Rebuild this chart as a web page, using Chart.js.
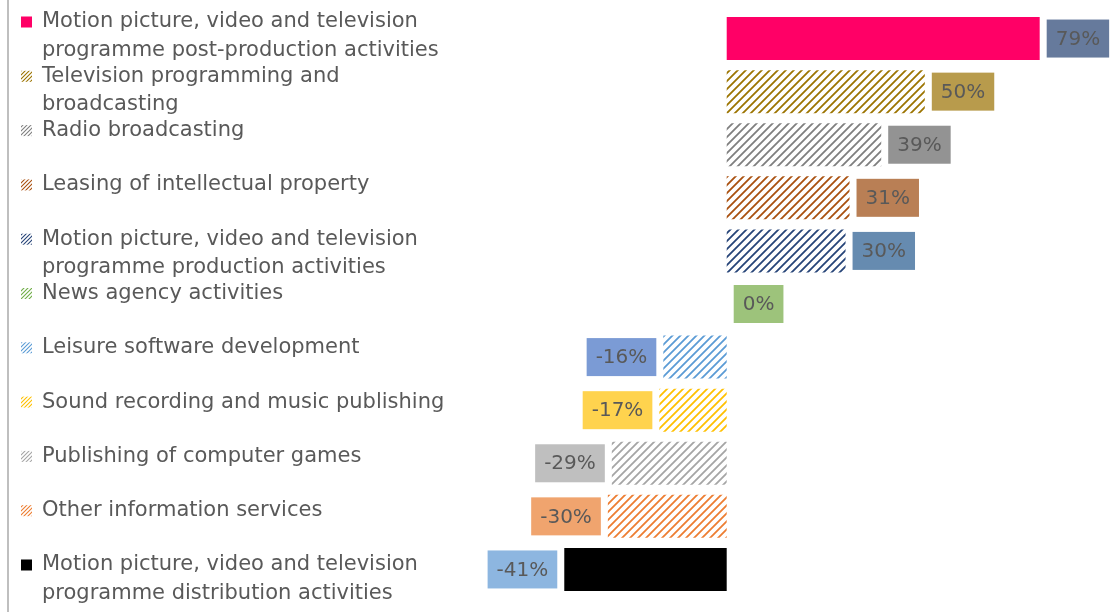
<!DOCTYPE html>
<html>
<head>
<meta charset="utf-8">
<script src="https://cdn.jsdelivr.net/npm/chart.js@4/dist/chart.umd.min.js"></script>
<style>
  html, body { margin: 0; padding: 0; background: #fff; }
  #wrap { width: 1112px; height: 612px; position: relative; }
</style>
</head>
<body>
<div id="wrap"><canvas id="sectorChart"></canvas></div>
<script>
"use strict";

// categories (legend text, already wrapped as in the original)
const categories = [
  ["Motion picture, video and television", "programme post-production activities"],
  ["Television programming and", "broadcasting"],
  ["Radio broadcasting"],
  ["Leasing of intellectual property"],
  ["Motion picture, video and television", "programme production activities"],
  ["News agency activities"],
  ["Leisure software development"],
  ["Sound recording and music publishing"],
  ["Publishing of computer games"],
  ["Other information services"],
  ["Motion picture, video and television", "programme distribution activities"],
];

// % change per category
const changePct = [79, 50, 39, 31, 30, 0, -16, -17, -29, -30, -41];

// bar colours and whether the bar is hatched
const barColors = ["#FF0066", "#9C7400", "#7F7F7F", "#A9500F", "#264478", "#70AD47",
                   "#5B9BD5", "#FFC000", "#A5A5A5", "#ED7D31", "#000000"];
const barHatched = [false, true, true, true, true, true, true, true, true, true, false];

// label box colours
const labelColors = ["#667A9C", "#B89B4C", "#939393", "#B97F55", "#668BB0", "#9DC37B",
                     "#7B9BD5", "#FFD34E", "#BFBFBF", "#F0A46E", "#8DB6E0"];

const FONT = "'DejaVu Sans', sans-serif";
const TEXT_COLOR = "#595959";

function hatch(color, size, width) {
  const c = document.createElement("canvas");
  c.width = size;
  c.height = size;
  const g = c.getContext("2d");
  g.strokeStyle = color;
  g.lineWidth = width;
  g.beginPath();
  g.moveTo(-1, size + 1); g.lineTo(size + 1, -1);
  g.moveTo(-1, 1); g.lineTo(1, -1);
  g.moveTo(size - 1, size + 1); g.lineTo(size + 1, size - 1);
  g.stroke();
  return g.createPattern(c, "repeat");
}

const fills = barColors.map((c, i) => (barHatched[i] ? hatch(c, 8, 1.8) : c));
const swatches = barColors.map((c, i) => (barHatched[i] ? hatch(c, 4, 1.1) : c));

// legend on the left (own layout, like the office legend)
const sideLegend = {
  id: "sideLegend",
  afterDraw(chart) {
    const ctx = chart.ctx;
    ctx.save();
    ctx.fillStyle = "#BFBFBF";
    ctx.fillRect(7, 0, 2, chart.height);

    const firstY = 22, pitch = 54.3, lineH = 28.5;
    ctx.font = "21px " + FONT;
    ctx.textBaseline = "middle";
    ctx.textAlign = "left";
    categories.forEach((lines, i) => {
      const y = firstY + i * pitch;
      ctx.fillStyle = swatches[i];
      ctx.fillRect(21, y - 5.5, 11, 11);
      ctx.fillStyle = TEXT_COLOR;
      lines.forEach((t, j) => ctx.fillText(t, 42, y + j * lineH));
    });
    ctx.restore();
  },
};

// value boxes outside the bar ends
const valueBoxes = {
  id: "valueBoxes",
  afterDatasetsDraw(chart) {
    const ctx = chart.ctx;
    const meta = chart.getDatasetMeta(0);
    ctx.save();
    ctx.font = "20px " + FONT;
    ctx.textBaseline = "middle";
    ctx.textAlign = "center";
    meta.data.forEach((bar, i) => {
      const v = changePct[i];
      const txt = Math.round(v) + "%";
      const w = ctx.measureText(txt).width + 18;
      const h = 38;
      const gap = 7;
      const x0 = v >= 0 ? bar.x + gap : bar.x - gap - w;
      ctx.fillStyle = labelColors[i];
      ctx.fillRect(x0, bar.y - h / 2, w, h);
      ctx.fillStyle = TEXT_COLOR;
      ctx.fillText(txt, x0 + w / 2, bar.y + 1);
    });
    ctx.restore();
  },
};

new Chart(document.getElementById("sectorChart").getContext("2d"), {
  type: "bar",
  data: {
    labels: categories,
    datasets: [
      {
        data: changePct,
        backgroundColor: fills,
        borderWidth: 0,
        categoryPercentage: 1,
        barPercentage: 0.81,
      },
    ],
  },
  options: {
    indexAxis: "y",
    maintainAspectRatio: false,
    responsive: true,
    animation: false,
    layout: { padding: { left: 489, right: 1, top: 12, bottom: 16 } },
    scales: {
      x: { display: false, min: -60, max: 97 },
      y: { display: false },
    },
    plugins: {
      legend: { display: false },
      tooltip: { enabled: false },
    },
  },
  plugins: [sideLegend, valueBoxes],
});
</script>
</body>
</html>
